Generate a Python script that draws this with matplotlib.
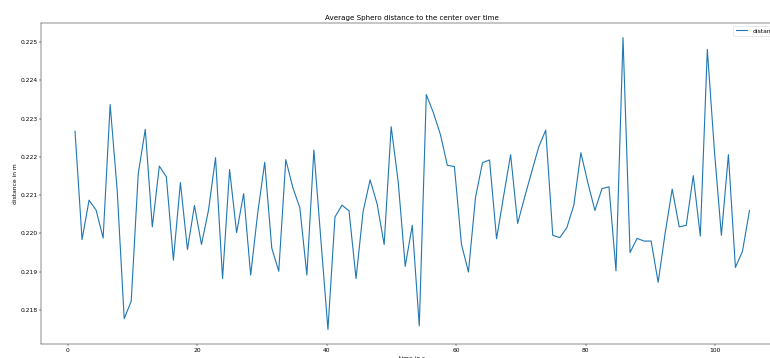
import numpy as np
import matplotlib
matplotlib.use("Agg")
import matplotlib.pyplot as plt

# sampling interval (s) and measured average distance (m)
step = 1.086
distance = [
    0.22267, 0.21984, 0.22087, 0.22061, 0.21988, 0.22337, 0.22113, 0.21777, 0.21823, 0.22157,
    0.22272, 0.22017, 0.22176, 0.22148, 0.21930, 0.22133, 0.21958, 0.22073, 0.21971, 0.22061,
    0.22198, 0.21882, 0.22167, 0.22002, 0.22104, 0.21891, 0.22053, 0.22186, 0.21962, 0.21901,
    0.22193, 0.22120, 0.22067, 0.21891, 0.22218, 0.21982, 0.21749, 0.22043, 0.22074, 0.22059,
    0.21882, 0.22057, 0.22140, 0.22077, 0.21971, 0.22279, 0.22135, 0.21914, 0.22021, 0.21758,
    0.22363, 0.22316, 0.22259, 0.22178, 0.22175, 0.21972, 0.21899, 0.22094, 0.22185, 0.22192,
    0.21986, 0.22097, 0.22206, 0.22026, 0.22095, 0.22161, 0.22226, 0.22270, 0.21995, 0.21989,
    0.22015, 0.22074, 0.22211, 0.22132, 0.22060, 0.22117, 0.22122, 0.21902, 0.22512, 0.21950,
    0.21987, 0.21980, 0.21980, 0.21872, 0.22001, 0.22116, 0.22017, 0.22021, 0.22151, 0.21993,
    0.22481, 0.22218, 0.21995, 0.22206, 0.21911, 0.21953, 0.22060,
]
time = step * np.arange(1, len(distance) + 1)

title = "Average Sphero distance to the center over time"
ylabel = "distance in m"
xlabel = "time in s"
legend_label = "distance"

plt.rcParams["font.size"] = 10.7

dpi = 40
fig = plt.figure(figsize=(770 / dpi, 358 / dpi), dpi=dpi)
W, H = 770, 358
left, right, top, bottom = 41.3, 783.2, 23, 344
ax = fig.add_axes([left / W, 1 - bottom / H, (right - left) / W, (bottom - top) / H])
ax.plot(time, distance, color="#1f77b4", linewidth=2.0, label=legend_label)
ax.set_title(title)
ax.set_ylabel(ylabel)
ax.set_xlabel(xlabel, labelpad=5)
ax.legend(loc="upper right")
fig.savefig("out.png", dpi=dpi)
